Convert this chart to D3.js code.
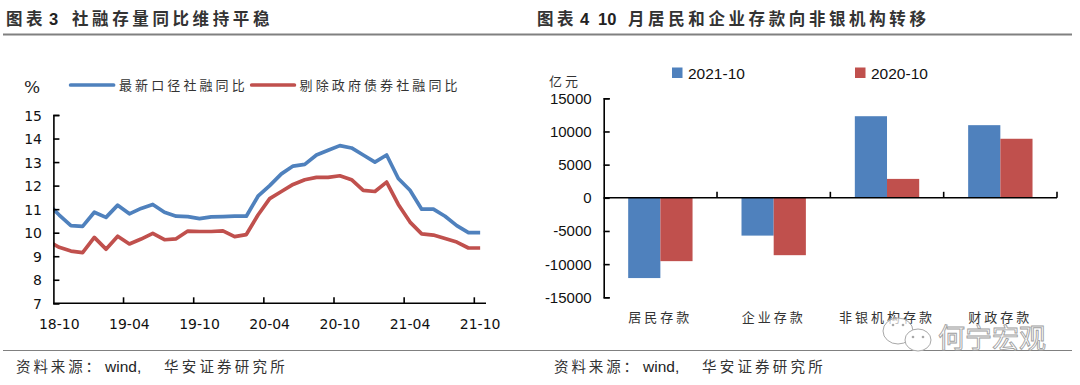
<!DOCTYPE html>
<html>
<head>
<meta charset="utf-8">
<script src="https://cdn.jsdelivr.net/npm/d3@7"></script>
<style>
  html, body { margin: 0; padding: 0; background: #fff; }
  svg { display: block; }
  .cjk { font-family: "Noto Sans CJK SC", sans-serif; fill: #333; }
</style>
</head>
<body>
<svg id="chart" width="1080" height="385"></svg>
<script>
// left chart: monthly series, first entry sits just before the axis and gets clipped
const months = ['18-09','18-10','18-11','18-12','19-01','19-02','19-03','19-04','19-05','19-06','19-07','19-08','19-09','19-10','19-11','19-12','20-01','20-02','20-03','20-04','20-05','20-06','20-07','20-08','20-09','20-10','20-11','20-12','21-01','21-02','21-03','21-04','21-05','21-06','21-07','21-08','21-09','21-10'];
const latestTsf = [11.25,10.75,10.3,10.27,10.87,10.65,11.17,10.8,11.03,11.2,10.87,10.7,10.68,10.6,10.67,10.68,10.7,10.7,11.55,12.0,12.5,12.83,12.9,13.3,13.5,13.7,13.6,13.3,13.0,13.3,12.3,11.8,11.0,11.0,10.7,10.3,10.0,10.0];
const exGovTsf = [9.65,9.38,9.22,9.15,9.8,9.3,9.85,9.52,9.73,9.97,9.7,9.74,10.07,10.05,10.05,10.08,9.83,9.92,10.75,11.45,11.75,12.05,12.25,12.35,12.35,12.42,12.25,11.8,11.75,12.15,11.2,10.45,9.95,9.9,9.75,9.6,9.35,9.35];
const monthLabels = ['18-10','19-04','19-10','20-04','20-10','21-04','21-10'];
const rateTicks = [7,8,9,10,11,12,13,14,15];
const lineNames = ['最新口径社融同比','剔除政府债券社融同比'];

// right chart
const depositTypes = ['居民存款','企业存款','非银机构存款','财政存款'];
const oct2021 = [-12100,-5700,12300,10950];
const oct2020 = [-9550,-8650,2850,8900];
const barNames = ['2021-10','2020-10'];
const amountTicks = [-15000,-10000,-5000,0,5000,10000,15000];

const blue = '#4f81bd', red = '#c0504d';
const svg = d3.select('#chart');

function cjk(x, y, str, size, spacing) {
    return svg.append('text').attr('class', 'cjk')
        .attr('x', x).attr('y', y)
        .attr('font-size', size)
        .attr('letter-spacing', spacing)
        .text(str);
}
function latin(x, y, str, size) {
    return svg.append('text')
        .attr('x', x).attr('y', y)
        .attr('font-family', 'Liberation Sans')
        .attr('font-size', size)
        .attr('fill', '#222')
        .text(str);
}

// headers and footers
cjk(6, 25, '图表', 16.5, 3.5).attr('font-weight', 700);
latin(49, 25, '3', 16.5).attr('font-weight', 700);
cjk(72, 25, '社融存量同比维持平稳', 16.5, 3.6).attr('font-weight', 700);
cjk(537, 25, '图表', 16.5, 3.5).attr('font-weight', 700);
latin(580, 25, '4', 16.5).attr('font-weight', 700);
latin(598, 25, '10', 16.5).attr('font-weight', 700);
cjk(628, 25, '月居民和企业存款向非银机构转移', 16.5, 3.6).attr('font-weight', 700);

svg.append('line').attr('x1', 3).attr('x2', 1072).attr('y1', 34.5).attr('y2', 34.5).attr('stroke', '#808080').attr('stroke-width', 2);
svg.append('line').attr('x1', 3).attr('x2', 1072).attr('y1', 350.5).attr('y2', 350.5).attr('stroke', '#808080').attr('stroke-width', 1.2);

[16, 554].forEach(x0 => {
    cjk(x0, 372, '资料来源：', 14.5, 2.9);
    latin(x0 + 89, 372, 'wind,', 15.5);
    cjk(x0 + 148, 372, '华安证券研究所', 14.5, 3.2);
});

// ---- left chart
const xLeft = d3.scaleBand().domain(months).range([53.4 - 11.7, 486]);
const yLeft = d3.scaleLinear().domain([7, 15]).range([303.3, 115]);
const centre = m => xLeft(m) + xLeft.bandwidth() / 2;

svg.append('clipPath').attr('id', 'plotClip').append('rect')
    .attr('x', 53.4).attr('y', 100).attr('width', 433).attr('height', 210);

const line = d3.line().x((d, i) => centre(months[i])).y(d => yLeft(d));
[[latestTsf, blue], [exGovTsf, red]].forEach(([vals, col]) => {
    svg.append('path').attr('d', line(vals))
        .attr('clip-path', 'url(#plotClip)')
        .attr('fill', 'none').attr('stroke', col).attr('stroke-width', 3.7).attr('stroke-linejoin', 'round');
});

const leftAxis = svg.append('g').attr('transform', 'translate(53.4,0)')
    .call(d3.axisRight(yLeft).tickValues(rateTicks).tickSize(6).tickFormat(''));
leftAxis.selectAll('line,path').attr('stroke', '#000').attr('stroke-width', 1.6);
rateTicks.forEach(t => {
    svg.append('text').attr('x', 42).attr('y', yLeft(t) + 5.5).attr('text-anchor', 'end')
        .attr('font-family', 'DejaVu Sans').attr('font-size', 14).attr('fill', '#111').text(t);
});

svg.append('line').attr('x1', 53.4).attr('x2', 486).attr('y1', yLeft(7)).attr('y2', yLeft(7)).attr('stroke', '#000').attr('stroke-width', 1.6);
monthLabels.forEach((m, i) => {
    if (i > 0) svg.append('line').attr('x1', xLeft(m)).attr('x2', xLeft(m)).attr('y1', yLeft(7)).attr('y2', yLeft(7) - 6).attr('stroke', '#000').attr('stroke-width', 1.6);
    svg.append('text').attr('x', centre(m)).attr('y', 329).attr('text-anchor', 'middle')
        .attr('font-family', 'DejaVu Sans').attr('font-size', 14).attr('fill', '#111').text(m);
});

svg.append('text').attr('x', 24).attr('y', 93).attr('font-family', 'DejaVu Serif').attr('font-size', 17).attr('fill', '#222').text('%');
[[70.6, 113.6, 119, blue], [251.7, 294.4, 299.6, red]].forEach(([a, b, t, col], i) => {
    svg.append('line').attr('x1', a).attr('x2', b).attr('y1', 85).attr('y2', 85).attr('stroke', col).attr('stroke-width', 3.7).attr('stroke-linecap', 'round');
    cjk(t, 90, lineNames[i], 13, 3.1);
});

// ---- right chart
const xRight = d3.scaleBand().domain(depositTypes).range([603.7, 1057]).paddingInner(0.432).paddingOuter(0.216);
const xInner = d3.scaleBand().domain(barNames).range([0, xRight.bandwidth()]);
const yRight = d3.scaleLinear().domain([-15000, 15000]).range([297.3, 98.3]);

[[oct2021, blue, barNames[0]], [oct2020, red, barNames[1]]].forEach(([vals, col, name]) => {
    svg.append('g').selectAll('rect').data(vals).join('rect')
        .attr('x', (d, i) => xRight(depositTypes[i]) + xInner(name))
        .attr('width', xInner.bandwidth())
        .attr('y', d => yRight(Math.max(d, 0)))
        .attr('height', d => Math.abs(yRight(d) - yRight(0)))
        .attr('fill', col);
});

const rightAxis = svg.append('g').attr('transform', 'translate(603.7,0)')
    .call(d3.axisRight(yRight).tickValues(amountTicks).tickSize(6).tickFormat(''));
rightAxis.selectAll('line,path').attr('stroke', '#000').attr('stroke-width', 1.6);
amountTicks.forEach(t => {
    svg.append('text').attr('x', 591.6).attr('y', yRight(t) + 5.5).attr('text-anchor', 'end')
        .attr('font-family', 'Liberation Sans').attr('font-size', 15).attr('fill', '#111').text(t);
});

svg.append('line').attr('x1', 603.7).attr('x2', 1057).attr('y1', yRight(0)).attr('y2', yRight(0)).attr('stroke', '#000').attr('stroke-width', 1.6);
xRight.domain().forEach(c => {
    const tx = xRight(c) + xRight.bandwidth() + xRight.step() * 0.216;
    svg.append('line').attr('x1', tx).attr('x2', tx).attr('y1', yRight(0)).attr('y2', yRight(0) - 6).attr('stroke', '#000').attr('stroke-width', 1.6);
    cjk(xRight(c) + xRight.bandwidth() / 2, 322, c, 13, 3).attr('text-anchor', 'middle');
});

cjk(549, 86, '亿元', 13, 3);
[[672, 688, blue], [855, 871, red]].forEach(([sx, tx, col], i) => {
    svg.append('rect').attr('x', sx).attr('y', 67.5).attr('width', 10.5).attr('height', 10.5).attr('fill', col);
    latin(tx, 78.5, barNames[i], 15.5).attr('fill', '#111');
});

// watermark over the plot
const wm = svg.append('g').attr('fill', '#fff').attr('fill-opacity', 0.7).attr('stroke', '#a8a8a8').attr('stroke-width', 1);
wm.append('ellipse').attr('cx', 898).attr('cy', 331).attr('rx', 15).attr('ry', 13);
wm.append('ellipse').attr('cx', 918).attr('cy', 340).attr('rx', 13).attr('ry', 11).attr('fill-opacity', 1);
[[913, 337], [923, 337], [893, 325], [903, 325]].forEach(([cx, cy]) => {
    svg.append('circle').attr('cx', cx).attr('cy', cy).attr('r', 1.3).attr('fill', '#a8a8a8');
});
svg.append('text').attr('x', 938).attr('y', 348)
    .attr('font-family', 'Noto Sans CJK SC').attr('font-size', 27)
    .attr('fill', '#fff').attr('stroke', '#a0a0a0').attr('stroke-width', 0.9)
    .text('何宁宏观');
</script>
</body>
</html>
